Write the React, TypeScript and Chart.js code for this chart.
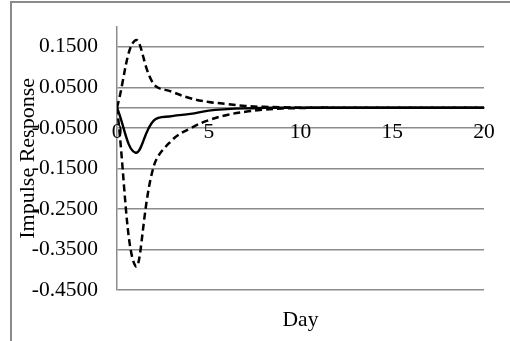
import React, { useEffect, useRef } from "react";
import { Chart, registerables } from "chart.js";

Chart.register(...registerables);

const days = [0, 1, 2, 3, 4, 5, 6, 7, 8, 9, 10, 11, 12, 13, 14, 15, 16, 17, 18, 19, 20];
const response = [0, -0.111, -0.032, -0.021, -0.0155, -0.0074, -0.0037, -0.0017, -0.0007, -0.0003, 0, 0, 0, 0, 0, 0, 0, 0, 0, 0, 0];
const upperBand = [0, 0.166, 0.058, 0.039, 0.023, 0.014, 0.009, 0.004, 0.002, 0.001, 0, 0, 0, 0, 0, 0, 0, 0, 0, 0, 0];
const lowerBand = [0, -0.39, -0.145, -0.08, -0.051, -0.031, -0.018, -0.01, -0.005, -0.002, -0.001, 0, 0, 0, 0, 0, 0, 0, 0, 0, 0];
const yTicks = [0.15, 0.05, -0.05, -0.15, -0.25, -0.35, -0.45];
const xTicks = [0, 5, 10, 15, 20];

const FONT = '"Liberation Serif", "Times New Roman", serif';
const GRID = "#8c8c8c";
const FS = 21.5;

export default function App() {
  const ref = useRef<HTMLCanvasElement | null>(null);

  useEffect(() => {
    if (!ref.current) return;
    const toPts = (arr: number[]) => days.map((d, i) => ({ x: d, y: arr[i] }));
    const chart = new Chart(ref.current, {
      type: "line",
      data: {
        datasets: [
          {
            label: "Upper",
            data: toPts(upperBand),
            borderColor: "#000",
            borderWidth: 2.5,
            borderDash: [7, 4],
            pointRadius: 0,
            tension: 0.4,
            fill: false,
            xAxisID: "x",
          },
          {
            label: "Impulse Response",
            data: toPts(response),
            borderColor: "#000",
            borderWidth: 2.4,
            pointRadius: 0,
            tension: 0.4,
            fill: false,
            xAxisID: "x",
          },
          {
            label: "Lower",
            data: toPts(lowerBand),
            borderColor: "#000",
            borderWidth: 2.5,
            borderDash: [7, 4],
            pointRadius: 0,
            tension: 0.4,
            fill: false,
            xAxisID: "x",
          },
        ],
      },
      options: {
        responsive: false,
        animation: false,
        devicePixelRatio: 1,
        layout: { padding: { left: 0, top: 26.5, right: 26, bottom: 0 } },
        plugins: { legend: { display: false }, tooltip: { enabled: false }, title: { display: false } },
        scales: {
          y: {
            type: "linear",
            position: "left",
            min: -0.45,
            max: 0.2,
            afterBuildTicks: (s: any) => {
              s.ticks = yTicks.map((v) => ({ value: v }));
            },
            afterFit: (s: any) => {
              s.width = 117;
              s.paddingTop = 0;
              s.paddingBottom = 0;
            },
            ticks: {
              color: "#000",
              padding: 19,
              font: { family: FONT, size: FS },
              callback: (v: any) => Number(v).toFixed(4),
            },
            grid: { color: GRID, lineWidth: 1.5, drawTicks: false },
            border: { color: GRID, width: 1.5 },
            title: {
              display: true,
              text: "Impulse Response",
              color: "#000",
              font: { family: FONT, size: 22 },
              padding: { top: 15, bottom: 0 },
            },
          },
          x: {
            type: "linear",
            position: { y: 0 },
            min: 0,
            max: 20,
            afterBuildTicks: (s: any) => {
              s.ticks = xTicks.map((v) => ({ value: v }));
            },
            ticks: {
              color: "#000",
              padding: 12,
              maxRotation: 0,
              font: { family: FONT, size: FS },
              callback: (v: any) => String(v),
            },
            grid: { display: false, drawTicks: false },
            border: { display: true, color: GRID, width: 1.5 },
          },
          x2: {
            type: "linear",
            position: "bottom",
            min: 0,
            max: 20,
            ticks: { display: false },
            grid: { display: false, drawTicks: false },
            border: { display: false },
            title: {
              display: true,
              text: "Day",
              color: "#000",
              font: { family: FONT, size: FS },
              padding: { top: 17, bottom: 8 },
            },
          },
        },
      },
    } as any);
    return () => chart.destroy();
  }, []);

  return (
    <div style={{ position: "fixed", left: 0, top: 0, width: 510, height: 341, background: "#fff", overflow: "hidden" }}>
      <div
        style={{
          position: "absolute",
          left: 10,
          top: 1,
          width: 600,
          height: 400,
          borderLeft: "2px solid #8a8a8a",
          borderTop: "2px solid #8a8a8a",
        }}
      />
      <canvas ref={ref} width={510} height={341} style={{ position: "absolute", left: 0, top: 0, width: 510, height: 341 }} />
    </div>
  );
}
